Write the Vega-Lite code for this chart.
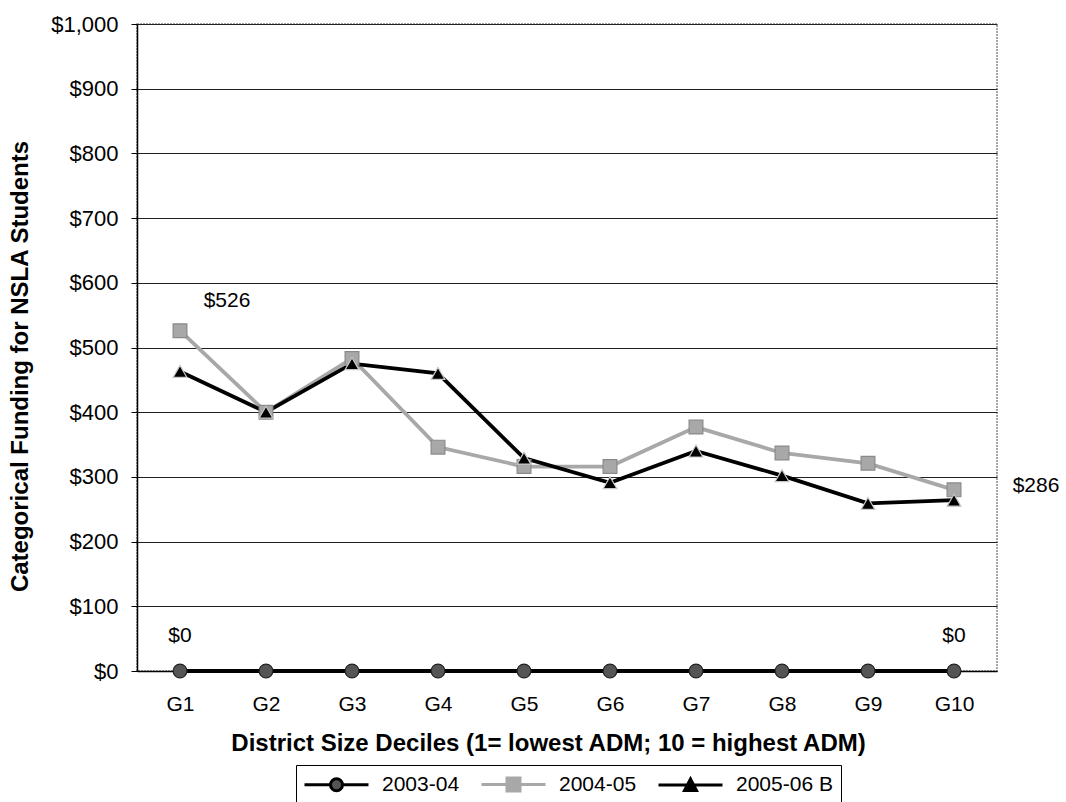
{
  "$schema": "https://vega.github.io/schema/vega-lite/v6.json",
  "width": 860,
  "height": 647,
  "autosize": {"type": "none"},
  "padding": {"left": 137, "top": 24, "right": 69, "bottom": 131},
  "background": "white",
  "config": {
    "font": "Liberation Sans",
    "view": {"stroke": "#888", "strokeDash": [2, 1], "strokeWidth": 1.5},
    "axis": {"labelColor": "#000", "titleColor": "#000", "labelFont": "Liberation Sans", "titleFont": "Liberation Sans"}
  },
  "datasets": {
    "series": [
      {"g": "G1", "series": "2003-04", "value": 0},
      {"g": "G2", "series": "2003-04", "value": 0},
      {"g": "G3", "series": "2003-04", "value": 0},
      {"g": "G4", "series": "2003-04", "value": 0},
      {"g": "G5", "series": "2003-04", "value": 0},
      {"g": "G6", "series": "2003-04", "value": 0},
      {"g": "G7", "series": "2003-04", "value": 0},
      {"g": "G8", "series": "2003-04", "value": 0},
      {"g": "G9", "series": "2003-04", "value": 0},
      {"g": "G10", "series": "2003-04", "value": 0},
      {"g": "G1", "series": "2004-05", "value": 526},
      {"g": "G2", "series": "2004-05", "value": 400},
      {"g": "G3", "series": "2004-05", "value": 483},
      {"g": "G4", "series": "2004-05", "value": 346},
      {"g": "G5", "series": "2004-05", "value": 316},
      {"g": "G6", "series": "2004-05", "value": 316},
      {"g": "G7", "series": "2004-05", "value": 377},
      {"g": "G8", "series": "2004-05", "value": 337},
      {"g": "G9", "series": "2004-05", "value": 321},
      {"g": "G10", "series": "2004-05", "value": 280},
      {"g": "G1", "series": "2005-06 B", "value": 463},
      {"g": "G2", "series": "2005-06 B", "value": 400},
      {"g": "G3", "series": "2005-06 B", "value": 475},
      {"g": "G4", "series": "2005-06 B", "value": 460},
      {"g": "G5", "series": "2005-06 B", "value": 329},
      {"g": "G6", "series": "2005-06 B", "value": 291},
      {"g": "G7", "series": "2005-06 B", "value": 340},
      {"g": "G8", "series": "2005-06 B", "value": 302},
      {"g": "G9", "series": "2005-06 B", "value": 259},
      {"g": "G10", "series": "2005-06 B", "value": 264}
    ],
    "labels": [
      {"g": "G1", "value": 526, "label": "$526", "kind": "top"},
      {"g": "G1", "value": 0, "label": "$0", "kind": "zero"},
      {"g": "G10", "value": 0, "label": "$0", "kind": "zero"},
      {"g": "G10", "value": 286, "label": "$286", "kind": "right"}
    ]
  },
  "encoding": {
    "x": {
      "field": "g", "type": "nominal",
      "sort": ["G1","G2","G3","G4","G5","G6","G7","G8","G9","G10"],
      "axis": {
        "title": "District Size Deciles (1= lowest ADM; 10 = highest ADM)",
        "labelAngle": 0, "labelFontSize": 21, "labelPadding": 22, "ticks": false,
        "domainColor": "#000", "domainWidth": 1.5,
        "titleFontSize": 24, "titleFontWeight": "bold", "titleX": 411, "titleY": 60
      }
    },
    "y": {
      "field": "value", "type": "quantitative",
      "scale": {"domain": [0, 1000], "nice": false},
      "axis": {
        "title": "Categorical Funding for NSLA Students",
        "values": [0,100,200,300,400,500,600,700,800,900,1000],
        "format": "$,.0f",
        "labelFontSize": 22, "labelPadding": 13, "tickSize": 6, "tickColor": "#000",
        "domainColor": "#000", "domainWidth": 1.5,
        "grid": true, "gridColor": "#222", "gridWidth": 1.2,
        "titleFontSize": 24, "titleFontWeight": "bold", "titleX": -105, "titleY": 342
      }
    }
  },
  "layer": [
    {
      "data": {"name": "series"},
      "mark": {"type": "line", "strokeWidth": 3.8},
      "encoding": {
        "color": {
          "field": "series", "type": "nominal",
          "scale": {"domain": ["2003-04","2004-05","2005-06 B"], "range": ["#000000","#a8a8a8","#000000"]},
          "legend": null
        }
      }
    },
    {
      "data": {"name": "series"},
      "mark": {"type": "point", "filled": true, "size": 190, "strokeWidth": 1.2, "opacity": 1},
      "encoding": {
        "shape": {
          "field": "series", "type": "nominal",
          "scale": {"domain": ["2003-04","2004-05","2005-06 B"], "range": ["circle","square","triangle-up"]},
          "legend": null
        },
        "fill": {
          "field": "series", "type": "nominal",
          "scale": {"domain": ["2003-04","2004-05","2005-06 B"], "range": ["#555555","#a8a8a8","#000000"]},
          "legend": null
        },
        "stroke": {
          "field": "series", "type": "nominal",
          "scale": {"domain": ["2003-04","2004-05","2005-06 B"], "range": ["#222222","#8a8a8a","#c8c8c8"]},
          "legend": null
        }
      }
    },
    {
      "data": {"name": "series"},
      "transform": [{"filter": "datum.value < 0"}],
      "mark": {"type": "point", "filled": true, "opacity": 1},
      "encoding": {
        "shape": {
          "field": "series", "type": "nominal",
          "scale": {"domain": ["2003-04","2004-05","2005-06 B"], "range": [
            "M-3.2,0H-0.6A0.6,0.6,0,1,1,0.6,0A0.6,0.6,0,1,1,-0.6,0M0.6,0H3.2",
            "M-3.2,0H-0.65M-0.65,-0.65H0.65V0.65H-0.65ZM0.65,0H3.2",
            "M-3.2,0H3.2M-0.6,0.55L0,-0.6L0.6,0.55Z"
          ]},
          "legend": {
            "title": null, "orient": "none", "direction": "horizontal", "legendX": 159, "legendY": 741,
            "symbolSize": 400, "symbolStrokeWidth": 3, "symbolOffset": 21, "labelOffset": 34,
            "labelFontSize": 21, "labelColor": "#000",
            "labelFont": "Liberation Sans", "strokeColor": "#000", "padding": 8, "columnPadding": 15,
            "symbolOpacity": 1
          }
        },
        "fill": {
          "field": "series", "type": "nominal",
          "scale": {"domain": ["2003-04","2004-05","2005-06 B"], "range": ["#555555","#a8a8a8","#000000"]}
        },
        "stroke": {
          "field": "series", "type": "nominal",
          "scale": {"domain": ["2003-04","2004-05","2005-06 B"], "range": ["#000000","#a8a8a8","#000000"]}
        }
      }
    },
    {
      "data": {"name": "labels"},
      "transform": [{"filter": "datum.kind == 'top'"}],
      "mark": {"type": "text", "fontSize": 21, "dx": 47, "dy": -30, "color": "#000"},
      "encoding": {"text": {"field": "label"}}
    },
    {
      "data": {"name": "labels"},
      "transform": [{"filter": "datum.kind == 'zero'"}],
      "mark": {"type": "text", "fontSize": 21, "dy": -35, "color": "#000"},
      "encoding": {"text": {"field": "label"}}
    },
    {
      "data": {"name": "labels"},
      "transform": [{"filter": "datum.kind == 'right'"}],
      "mark": {"type": "text", "fontSize": 21, "dx": 82, "color": "#000"},
      "encoding": {"text": {"field": "label"}}
    }
  ],
  "resolve": {"scale": {"shape": "independent", "fill": "independent", "stroke": "independent"}}
}
